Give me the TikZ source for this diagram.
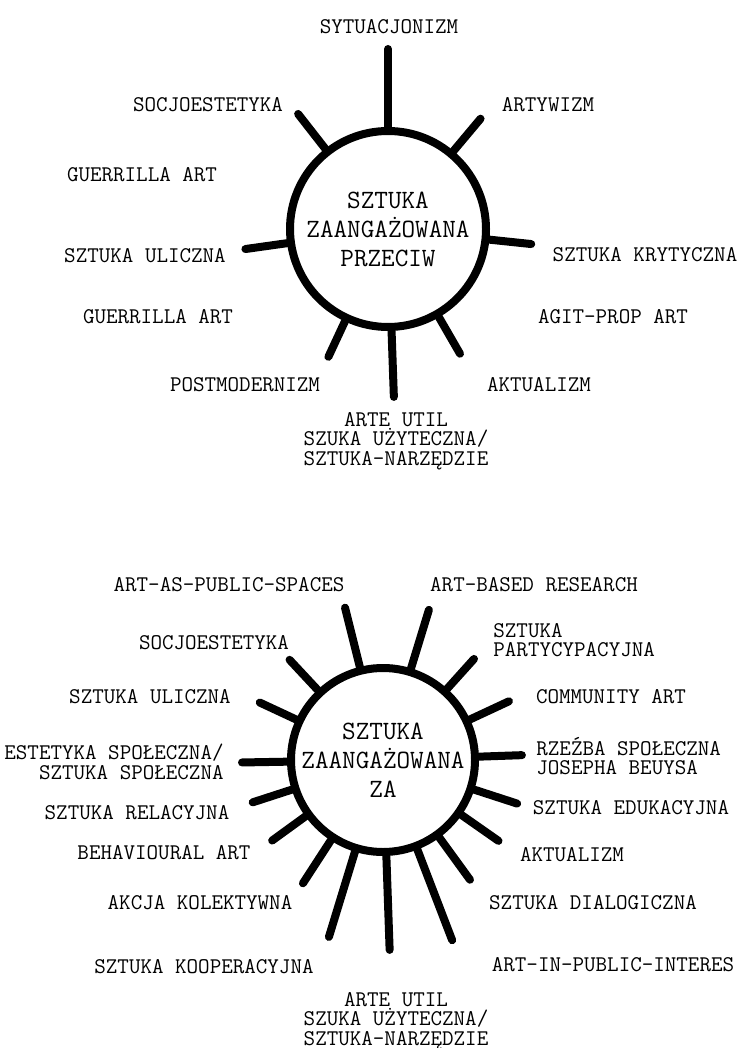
\documentclass[tikz,border=0pt]{standalone}
\usepackage{fontspec}
\newcommand\typeface{\ttfamily\addfontfeatures{FakeBold=2.2}}
\begin{document}
\begin{tikzpicture}[x=0.5pt,y=-0.5pt,
  hub/.style={circle,draw,line width=4pt,minimum size=#1,inner sep=0pt,align=center,
    font=\typeface\fontsize{13.2}{14.5}\selectfont},
  spoke/.style={line width=4pt,line cap=round},
  lab/.style={inner sep=0pt,align=center,font=\typeface\fontsize{11.2}{9.7}\selectfont}]
\useasboundingbox (0,0) rectangle (745,1048);
\node[hub=98pt] (przeciw) at (388,229) {SZTUKA\\ZAANGAŻOWANA\\PRZECIW};
\foreach \a/\l in {90/39,128/22,50/21,188/21,354/21,245/19.5,300/21,272/33}
  \draw[spoke] (przeciw.\a) -- ++(\a:\l pt);
\node[lab] (sytuacjonizm) at (389,27) {SYTUACJONIZM};
\node[lab] (socjo1) at (208,105) {SOCJOESTETYKA};
\node[lab] (artywizm) at (548,105) {ARTYWIZM};
\node[lab] (guerrilla1) at (142,175) {GUERRILLA ART};
\node[lab] (uliczna1) at (145,256) {SZTUKA ULICZNA};
\node[lab] (krytyczna) at (645,255) {SZTUKA KRYTYCZNA};
\node[lab] (guerrilla2) at (158,317) {GUERRILLA ART};
\node[lab] (agitprop) at (613,317) {AGIT-PROP ART};
\node[lab] (postmod) at (245,385) {POSTMODERNIZM};
\node[lab] (aktualizm1) at (539,385) {AKTUALIZM};
\node[lab] (util1) at (396,441) {ARTE UTIL\\SZUKA UŻYTECZNA/\\SZTUKA-NARZĘDZIE};
\node[hub=92pt] (za) at (383,760) {SZTUKA\\ZAANGAŻOWANA\\ZA};
\foreach \a/\l in {104/30.5,73/30.5,133/20.5,48/20,155/20,25/21.5,181/22.5,2/21.5,198/20.5,
    342/22.5,216/20.5,325/22.5,237/25.5,306/26,253/44.5,291/48.5,272/47}
  \draw[spoke] (za.\a) -- ++(\a:\l pt);
\node[lab] (aaps) at (229,585) {ART-AS-PUBLIC-SPACES};
\node[lab] (abr) at (534,585) {ART-BASED RESEARCH};
\node[lab] (socjo2) at (214,643) {SOCJOESTETYKA};
\node[lab,anchor=west,align=left] (partycyp) at (493,640) {SZTUKA\\PARTYCYPACYJNA};
\node[lab] (uliczna2) at (150,697) {SZTUKA ULICZNA};
\node[lab] (community) at (611,697) {COMMUNITY ART};
\node[lab,anchor=east,align=right] (estetyka) at (224,762) {ESTETYKA SPOŁECZNA/\\SZTUKA SPOŁECZNA};
\node[lab,anchor=west,align=left] (rzezba) at (536,756) {RZEŹBA SPOŁECZNA\\JOSEPHA BEUYSA};
\node[lab] (relacyjna) at (137,813) {SZTUKA RELACYJNA};
\node[lab] (edukacyjna) at (631,808) {SZTUKA EDUKACYJNA};
\node[lab] (behav) at (164,853) {BEHAVIOURAL ART};
\node[lab] (aktualizm2) at (572,855) {AKTUALIZM};
\node[lab] (akcja) at (200,903) {AKCJA KOLEKTYWNA};
\node[lab] (dialog) at (593,903) {SZTUKA DIALOGICZNA};
\node[lab] (kooper) at (204,967) {SZTUKA KOOPERACYJNA};
\node[lab] (aipi) at (613,965) {ART-IN-PUBLIC-INTERES};
\node[lab] (util2) at (396,1021) {ARTE UTIL\\SZUKA UŻYTECZNA/\\SZTUKA-NARZĘDZIE};
\end{tikzpicture}
\end{document}
